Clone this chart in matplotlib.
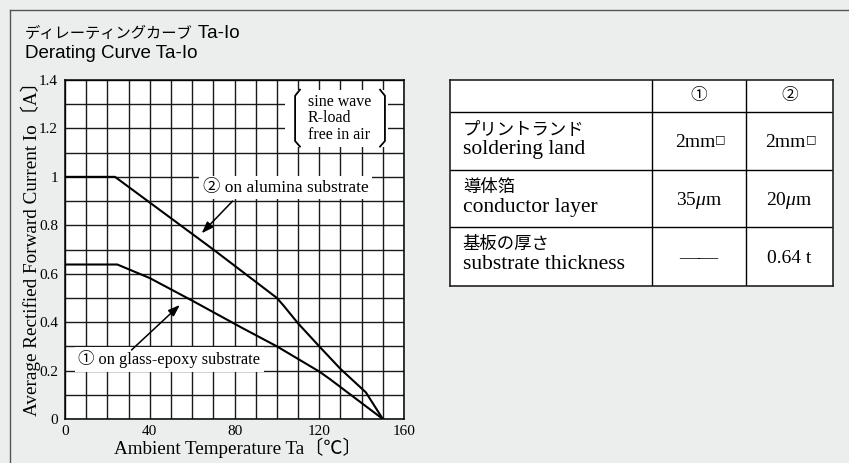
import numpy as np
import matplotlib.pyplot as plt
from matplotlib.ticker import MultipleLocator, FixedLocator, FixedFormatter
from matplotlib.patches import Rectangle
from matplotlib.lines import Line2D

# ---------------------------------------------------------------
# data
# ---------------------------------------------------------------
temp_alumina = [0, 23.6, 70, 100, 103, 110, 120, 130, 142, 150]
io_alumina = [1.0, 1.0, 0.70, 0.50, 0.47, 0.395, 0.30, 0.207, 0.11, 0.0]

temp_glass = [0, 24.7, 40, 60, 83, 100, 120, 125, 150]
io_glass = [0.638, 0.638, 0.582, 0.489, 0.379, 0.30, 0.196, 0.165, 0.0]

x_ticks = [0, 40, 80, 120, 160]
y_ticks = [0, 0.2, 0.4, 0.6, 0.8, 1.0, 1.2, 1.4]
y_tick_labels = ['0', '0.2', '0.4', '0.6', '0.8', '1', '1.2', '1.4']

cond_lines = ['sine wave', 'R-load', 'free in air']

table_header = ['', '①', '②']
row_jp = ['プリントランド', '導体箔', '基板の厚さ']
row_en = ['soldering land', 'conductor layer', 'substrate thickness']
col1_vals = ['2mm', r'35$\mathit{μ}$m', '——']
col2_vals = ['2mm', r'20$\mathit{μ}$m', '0.64 t']
square_mark = [True, False, False]

# ---------------------------------------------------------------
plt.rcParams['font.family'] = ['Liberation Serif', 'Noto Sans CJK JP']
plt.rcParams['mathtext.fontset'] = 'custom'
plt.rcParams['mathtext.rm'] = 'Liberation Serif'
plt.rcParams['mathtext.it'] = 'Liberation Serif:italic'

BG = '#eceeed'
W, H = 849, 463
fig = plt.figure(figsize=(W / 100, H / 100), dpi=100, facecolor=BG)

# frame of the panel
fig.add_artist(Line2D([9.5 / W, 9.5 / W], [0, 1 - 9.5 / H], color='#555555', lw=1.0))
fig.add_artist(Line2D([9.5 / W, 1], [1 - 9.5 / H, 1 - 9.5 / H], color='#555555', lw=1.0))

# ---------------------------------------------------------------
# chart
# ---------------------------------------------------------------
ax = fig.add_axes([65 / W, (H - 419) / H, 339 / W, 339 / H])
ax.set_facecolor('white')
ax.set_xlim(0, 160)
ax.set_ylim(0, 1.4)

# title
t1 = fig.text(25 / W, 1 - 33.5 / H, 'ディレーティングカーブ', fontsize=11,
              family='Noto Sans CJK JP', va='center', ha='left')
ax.annotate(' Ta-Io', xy=(1, 0.5), xycoords=t1, fontsize=13.5,
            family='Liberation Sans', va='center', ha='left', annotation_clip=False)
fig.text(25 / W, 1 - 53 / H, 'Derating Curve Ta-Io', fontsize=13.5,
         family='Liberation Sans', va='center', ha='left')

ax.xaxis.set_major_locator(FixedLocator(x_ticks))
ax.yaxis.set_major_locator(FixedLocator(y_ticks))
ax.yaxis.set_major_formatter(FixedFormatter(y_tick_labels))
ax.xaxis.set_minor_locator(MultipleLocator(10))
ax.yaxis.set_minor_locator(MultipleLocator(0.1))
ax.grid(which='both', color='#1a1a1a', lw=1.0)
ax.set_axisbelow(True)
ax.tick_params(which='both', length=0)
ax.tick_params(axis='x', labelsize=11, pad=4)
ax.tick_params(axis='y', labelsize=11, pad=5)
for s in ax.spines.values():
    s.set_color('black')
    s.set_linewidth(1.1)

ax.plot(temp_alumina, io_alumina, color='black', lw=1.5, zorder=5)
ax.plot(temp_glass, io_glass, color='black', lw=1.5, zorder=5)

ax.set_xlabel('Ambient Temperature Ta〔℃〕', fontsize=13.8, va='center')
ax.xaxis.set_label_coords(0.509, -0.0855)
ax.set_ylabel('Average Rectified Forward Current Io〔A〕', fontsize=13.8, va='center')
ax.yaxis.set_label_coords(-0.101, 0.516)

# conditions box
ax.add_patch(Rectangle((103.8, 1.124), 48.6, 0.236, facecolor='white',
                       edgecolor='none', zorder=3))
ax.text(114.6, 1.242, '\n'.join(cond_lines), fontsize=11.5, va='center', ha='left',
        linespacing=1.05, zorder=4)
ax.plot([110.9, 108.6, 108.6, 110.9], [1.36, 1.335, 1.148, 1.125],
        color='black', lw=1.3, zorder=4)
ax.plot([148.7, 151.0, 151.0, 148.7], [1.36, 1.335, 1.148, 1.125],
        color='black', lw=1.3, zorder=4)

# curve labels
box = dict(facecolor='white', edgecolor='none', boxstyle='square,pad=0.2')
ax.text(65.0, 0.956, '② on alumina substrate', fontsize=12.5, va='center',
        ha='left', bbox=box, zorder=4)
ax.text(6.3, 0.246, '① on glass-epoxy substrate', fontsize=11.8, va='center',
        ha='left', bbox=box, zorder=4)

arrow = dict(arrowstyle='-|>,head_length=0.7,head_width=0.25', color='black',
             lw=1.1, shrinkA=0, shrinkB=0)
ax.annotate('', xy=(64.5, 0.767), xytext=(79.1, 0.9), arrowprops=arrow, zorder=6)
ax.annotate('', xy=(54.2, 0.471), xytext=(31.4, 0.285), arrowprops=arrow, zorder=6)

# ---------------------------------------------------------------
# table
# ---------------------------------------------------------------
tw, th = 383.3, 206.0
tab = fig.add_axes([450 / W, (H - 286) / H, tw / W, th / H])
tab.set_xlim(0, tw)
tab.set_ylim(th, 0)
tab.set_facecolor('white')
tab.set_xticks([])
tab.set_yticks([])
for s in tab.spines.values():
    s.set_color('#222222')
    s.set_linewidth(1.2)

col_edges = [0, 202.3, 295.7, tw]
row_edges = [0, 32.3, 90.0, 147.3, th]
for xe in col_edges[1:-1]:
    tab.plot([xe, xe], [0, th], color='black', lw=1.0)
for ye in row_edges[1:-1]:
    tab.plot([0, tw], [ye, ye], color='black', lw=1.0)

col_mid = [(col_edges[i] + col_edges[i + 1]) / 2 for i in range(3)]
for i, h in enumerate(table_header):
    if h:
        tab.text(col_mid[i], 15.5, h, fontsize=12, ha='center', va='center',
                 family='Noto Sans CJK JP')

for r in range(3):
    top = row_edges[r + 1]
    bot = row_edges[r + 2]
    tab.text(12.7, top + 16.5, row_jp[r], fontsize=12.5, ha='left', va='center',
             family='Noto Sans CJK JP')
    tab.text(12.7, top + 37.5, row_en[r], fontsize=15.5, ha='left', va='center')
    mid = (top + bot) / 2 + 1.5
    for c, vals in ((1, col1_vals), (2, col2_vals)):
        off = -4 if square_mark[r] else 0
        t = tab.text(col_mid[c] + off, mid, vals[r], fontsize=14, ha='center',
                     va='center')
        if square_mark[r]:
            tab.annotate('□', xy=(1, 1), xycoords=t, fontsize=8,
                         family='DejaVu Sans', ha='left', va='top')

fig.savefig('out.png', dpi=100, facecolor=BG)
